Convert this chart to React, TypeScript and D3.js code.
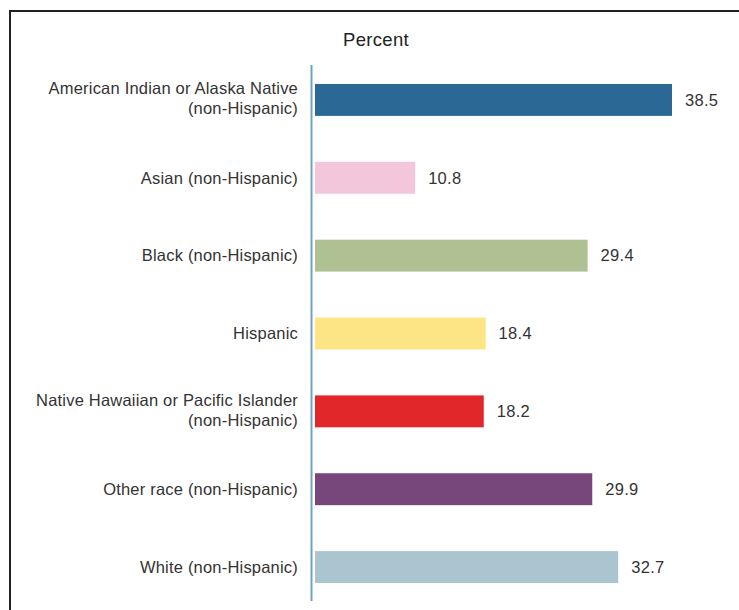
import React from "react";
import * as d3 from "d3";

const categories = [
  ["American Indian or Alaska Native", "(non-Hispanic)"],
  ["Asian (non-Hispanic)"],
  ["Black (non-Hispanic)"],
  ["Hispanic"],
  ["Native Hawaiian or Pacific Islander", "(non-Hispanic)"],
  ["Other race (non-Hispanic)"],
  ["White (non-Hispanic)"],
];
const values = [38.5, 10.8, 29.4, 18.4, 18.2, 29.9, 32.7];
const colors = ["#2b6895", "#f3c6dc", "#afc193", "#fde484", "#e12729", "#77467b", "#aac4d0"];

const W = 739;
const H = 610;
const font = "'Liberation Sans', Arial, Helvetica, sans-serif";

export default function App() {
  const keys = categories.map((c) => c.join(" "));
  const y = d3
    .scaleBand<string>()
    .domain(keys)
    .range([61, 606])
    .paddingInner(0.59)
    .paddingOuter(0.295);
  const x = d3.scaleLinear().domain([0, 38.5]).range([315, 672]);

  return (
    <svg width={W} height={H} style={{ position: "absolute", left: 0, top: 0 }}>
      <rect width={W} height={H} fill="#fff" />
      {/* frame: only top and left edges are in view */}
      <path d={`M10,${H} L10,11 L${W},11`} fill="none" stroke="#222" strokeWidth={2} />
      <text x={376} y={46} textAnchor="middle" fontFamily={font} fontSize={18.5} letterSpacing={0.3} fill="#222">
        Percent
      </text>
      {values.map((v, i) => {
        const k = keys[i];
        const y0 = y(k)!;
        const cy = y0 + y.bandwidth() / 2;
        const lines = categories[i];
        const shift = lines.length > 1 ? -1.5 : 0;
        return (
          <g key={k}>
            <rect x={x(0)} y={y0} width={x(v) - x(0)} height={y.bandwidth()} fill={colors[i]} />
            <text
              x={x(v) + 13}
              y={cy}
              dy="0.35em"
              fontFamily={font}
              fontSize={16.5}
              letterSpacing={0.3}
              fill="#333"
            >
              {v.toFixed(1)}
            </text>
            <text textAnchor="end" fontFamily={font} fontSize={16.5} letterSpacing={0.2} fill="#333">
              {lines.map((t, j) => (
                <tspan
                  key={j}
                  x={298}
                  y={cy + shift + (j - (lines.length - 1) / 2) * 20}
                  dy="0.35em"
                >
                  {t}
                </tspan>
              ))}
            </text>
          </g>
        );
      })}
      <line x1={311.5} x2={311.5} y1={65} y2={601} stroke="#6fa3bf" strokeWidth={2} />
    </svg>
  );
}
